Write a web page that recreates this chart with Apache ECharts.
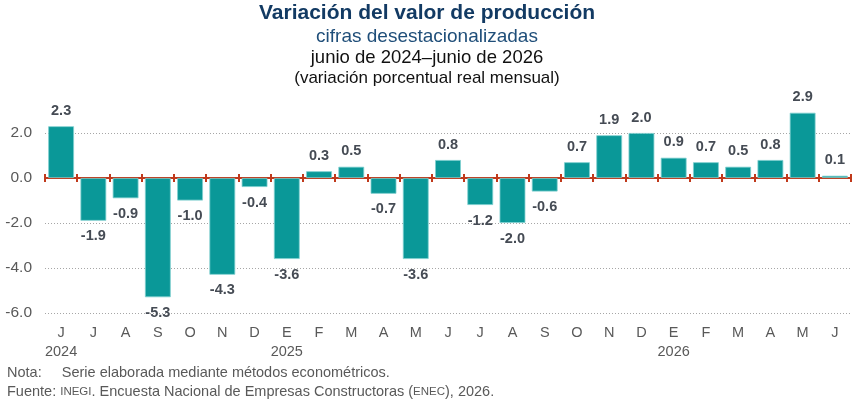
<!DOCTYPE html>
<html>
<head>
<meta charset="utf-8">
<script src="https://cdn.jsdelivr.net/npm/echarts@6/dist/echarts.min.js"></script>
<style>
  html, body { margin: 0; padding: 0; background: #fff; }
  #chart { width: 854px; height: 402px; }
</style>
</head>
<body>
<div id="chart"></div>
<script>
// meses de junio 2024 a junio 2026
var months = ['J', 'J', 'A', 'S', 'O', 'N', 'D', 'E', 'F', 'M', 'A', 'M', 'J', 'J', 'A', 'S', 'O', 'N', 'D', 'E', 'F', 'M', 'A', 'M', 'J'];
var years = { 0: '2024', 7: '2025', 19: '2026' };
var values = [2.3, -1.9, -0.9, -5.3, -1.0, -4.3, -0.4, -3.6, 0.3, 0.5, -0.7, -3.6, 0.8, -1.2, -2.0, -0.6, 0.7, 1.9, 2.0, 0.9, 0.7, 0.5, 0.8, 2.9, 0.1];
var yMin = -6, yMax = 3, yStep = 2;

var FONT = '"Liberation Sans", Arial, sans-serif';
var GRAY = '#595959';
var RED = '#C0391B';
var box = { left: 45, right: 3, top: 110.5, bottom: 89 };

var chart = echarts.init(document.getElementById('chart'));

// un eje y oculto por cada grid extra, mismo rango
function hiddenY(i) {
  return { type: 'value', gridIndex: i, min: yMin, max: yMax, interval: yStep, show: false, splitLine: { show: false } };
}

var option = {
  backgroundColor: '#fff',
  animation: false,
  textStyle: { fontFamily: FONT },
  title: [
    { text: 'Variación del valor de producción', left: 'center', top: -2,
      textStyle: { fontFamily: FONT, fontSize: 21, fontWeight: 'bold', color: '#123A63' } },
    { text: 'cifras desestacionalizadas', left: 'center', top: 22,
      textStyle: { fontFamily: FONT, fontSize: 19, fontWeight: 'normal', color: '#1F4E79' } },
    { text: 'junio de 2024–junio de 2026', left: 'center', top: 43,
      textStyle: { fontFamily: FONT, fontSize: 18.5, fontWeight: 'normal', color: '#111' } },
    { text: '(variación porcentual real mensual)', left: 'center', top: 65,
      textStyle: { fontFamily: FONT, fontSize: 17, fontWeight: 'normal', color: '#111' } }
  ],
  graphic: [
    { type: 'text', left: 7, top: 365,
      style: { text: 'Nota:     Serie elaborada mediante métodos econométricos.', font: '14.5px ' + FONT, fill: GRAY } },
    { type: 'text', left: 7, top: 384,
      style: {
        text: 'Fuente: {s|INEGI}. Encuesta Nacional de Empresas Constructoras ({s|ENEC}), 2026.',
        font: '14.5px ' + FONT, fill: GRAY,
        rich: { s: { fontSize: 11.5, fontFamily: FONT, fill: GRAY } }
      } }
  ],
  grid: [
    Object.assign({}, box),
    Object.assign({}, box),
    Object.assign({}, box)
  ],
  xAxis: [
    {
      // eje en cero con marcas hacia abajo
      type: 'category', data: months, gridIndex: 0,
      axisLine: { show: true, onZero: true, lineStyle: { color: RED, width: 2 } },
      axisTick: { show: true, length: 4, lineStyle: { color: RED, width: 2 } },
      axisLabel: { show: false }
    },
    {
      // etiquetas de meses y años abajo
      type: 'category', data: months, gridIndex: 1, position: 'bottom',
      axisLine: { show: false, onZero: false },
      axisTick: { show: false },
      axisLabel: {
        interval: 0, color: GRAY, fontSize: 14.5, fontFamily: FONT, margin: 10, lineHeight: 19,
        formatter: function (v, i) { return years[i] ? v + '\n' + years[i] : v; }
      }
    },
    {
      // marcas hacia arriba
      type: 'category', data: months, gridIndex: 2,
      axisLine: { show: false, onZero: true },
      axisTick: { show: true, inside: true, length: 4, lineStyle: { color: RED, width: 2 } },
      axisLabel: { show: false }
    }
  ],
  yAxis: [
    {
      type: 'value', gridIndex: 0, min: yMin, max: yMax, interval: yStep,
      axisLine: { show: false }, axisTick: { show: false },
      axisLabel: {
        color: GRAY, fontSize: 15.5, fontFamily: FONT, margin: 13, showMaxLabel: false,
        formatter: function (v) { return v > 2 ? '' : v.toFixed(1); }
      },
      splitLine: { show: true, showMaxLine: false, lineStyle: { color: '#A6A6A6', type: [1, 2], width: 1 } }
    },
    hiddenY(1),
    hiddenY(2)
  ],
  series: [
    {
      type: 'bar', xAxisIndex: 0, yAxisIndex: 0, barCategoryGap: '20%',
      itemStyle: { color: '#0A9898', borderColor: '#7FCFCF', borderWidth: 0.8 },
      label: {
        show: true, fontFamily: FONT, fontSize: 14.5, fontWeight: 'bold', color: '#454B54', distance: 8,
        formatter: function (p) { return p.value.toFixed(1); }
      },
      // etiquetas negativas debajo de la barra
      data: values.map(function (v) {
        return { value: v, label: { position: v < 0 ? 'bottom' : 'top' } };
      })
    },
    { type: 'bar', xAxisIndex: 1, yAxisIndex: 1, data: [] },
    { type: 'bar', xAxisIndex: 2, yAxisIndex: 2, data: [] }
  ]
};

chart.setOption(option);
</script>
</body>
</html>
